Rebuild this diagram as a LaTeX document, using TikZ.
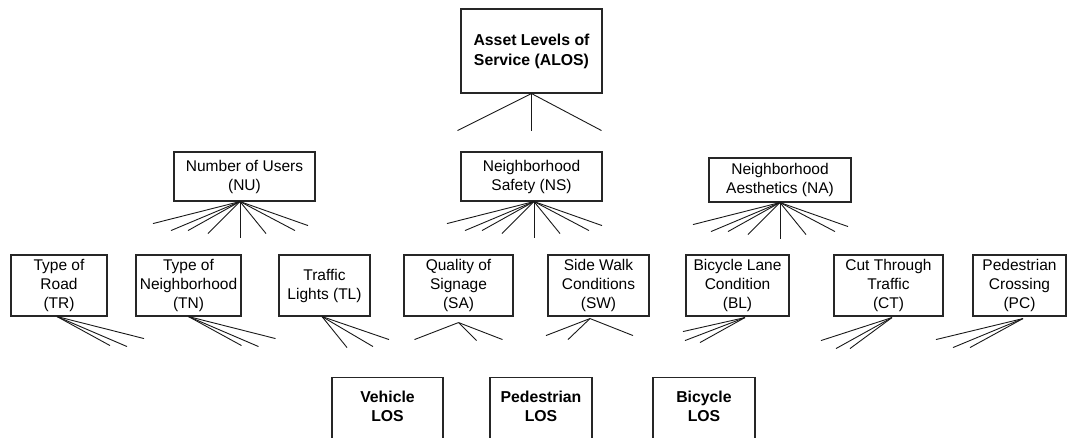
\documentclass[tikz,border=0pt]{standalone}
\usepackage{fontspec}
\setmainfont{Liberation Sans}
\begin{document}
\begin{tikzpicture}[x=1pt,y=-1pt,
  box/.style={draw=black!85, line width=1.1pt, inner sep=0pt, align=center,
    font=\fontsize{15.5}{19}\selectfont},
  topbox/.style={box, font=\fontsize{15.8}{20}\selectfont\bfseries},
  losbox/.style={draw=black!85, line width=1.1pt, inner sep=0pt, anchor=north,
    minimum height=100pt},
  lostext/.style={align=center, inner sep=0pt, font=\fontsize{15.8}{19}\selectfont\bfseries},
  fan/.style={draw=black!90, line width=0.9pt}]
\useasboundingbox (0,0) rectangle (1068,437);
\clip (0,0) rectangle (1068,437);

% goal
\node[topbox, minimum width=141pt, minimum height=84pt] (alos) at (531.5,51)
  {Asset Levels of\\Service (ALOS)};

% criteria
\node[box, minimum width=141pt, minimum height=49pt] (nu) at (244.5,176.5) {Number of Users\\(NU)};
\node[box, minimum width=141pt, minimum height=49pt] (ns) at (531.5,176.5) {Neighborhood\\Safety (NS)};
\node[box, minimum width=142pt, minimum height=44pt] (na) at (780,180) {Neighborhood\\Aesthetics (NA)};

% sub-criteria
\node[box, minimum width=96pt,  minimum height=61pt] (tr) at (59,285.5)   {Type of\\Road\\(TR)};
\node[box, minimum width=105pt, minimum height=61pt] (tn) at (188.5,285.5) {Type of\\Neighborhood\\(TN)};
\node[box, minimum width=91pt,  minimum height=61pt] (tl) at (324.5,285.5) {Traffic\\Lights (TL)};
\node[box, minimum width=109pt, minimum height=61pt] (sa) at (458.5,285.5) {Quality of\\Signage\\(SA)};
\node[box, minimum width=101pt, minimum height=61pt] (sw) at (598.5,285.5) {Side Walk\\Conditions\\(SW)};
\node[box, minimum width=103pt, minimum height=61pt] (bl) at (737.5,285.5) {Bicycle Lane\\Condition\\(BL)};
\node[box, minimum width=109pt, minimum height=61pt] (ct) at (888.5,285.5) {Cut Through\\Traffic\\(CT)};
\node[box, minimum width=93pt,  minimum height=61pt] (pc) at (1019.5,285.5) {Pedestrian\\Crossing\\(PC)};

% alternatives
\node[losbox, minimum width=111pt] (veh) at (387.5,377) {};
\node[losbox, minimum width=102pt] (ped) at (541,377) {};
\node[losbox, minimum width=102pt] (bic) at (704,377) {};
\node[lostext] (vehT) at (387.5,406.5) {Vehicle\\LOS};
\node[lostext] (pedT) at (541,406.5) {Pedestrian\\LOS};
\node[lostext] (bicT) at (704,406.5) {Bicycle\\LOS};

% fan origins
\coordinate (nuO) at ([xshift=-4.5pt]nu.south);
\coordinate (nsO) at ([xshift=2.5pt]ns.south);
\coordinate (naO) at (na.south);
\coordinate (trO) at ([xshift=-2pt]tr.south);
\coordinate (tnO) at (tn.south);
\coordinate (tlO) at ([xshift=-2.5pt]tl.south);
\coordinate (saO) at ([yshift=-6pt]sa.south);
\coordinate (swO) at ([xshift=-8.5pt,yshift=-2pt]sw.south);
\coordinate (blO) at ([xshift=7.5pt,yshift=-1pt]bl.south);
\coordinate (ctO) at ([xshift=3.5pt,yshift=-1pt]ct.south);
\coordinate (pcO) at ([xshift=3.5pt,yshift=-2pt]pc.south);

% fans
\foreach \dx/\dy in {-74/37, 0/37, 70/37}
  \draw[fan] (alos.south) -- ++(\dx,\dy);
\foreach \o in {nuO, nsO, naO}
  \foreach \dx/\dy in {-87/22, -69/29, -52/29, -32/32, 0/36, 26/32, 55/29, 68/24}
    \draw[fan] (\o) -- ++(\dx,\dy);
\foreach \o in {trO, tnO}
  \foreach \dx/\dy in {87/22, 70/30, 53/29}
    \draw[fan] (\o) -- ++(\dx,\dy);
\foreach \dx/\dy in {67/23, 51/30, 25/31}
  \draw[fan] (tlO) -- ++(\dx,\dy);
\foreach \dx/\dy in {-44/17, 18/18, 44/17}
  \draw[fan] (saO) -- ++(\dx,\dy);
\foreach \dx/\dy in {-44/17, -22/21, 43/17}
  \draw[fan] (swO) -- ++(\dx,\dy);
\foreach \dx/\dy in {-62/14, -60/23, -45/25}
  \draw[fan] (blO) -- ++(\dx,\dy);
\foreach \dx/\dy in {-71/23, -56/31, -42/31}
  \draw[fan] (ctO) -- ++(\dx,\dy);
\foreach \dx/\dy in {-87/21, -70/29, -53/29}
  \draw[fan] (pcO) -- ++(\dx,\dy);
\end{tikzpicture}
\end{document}
